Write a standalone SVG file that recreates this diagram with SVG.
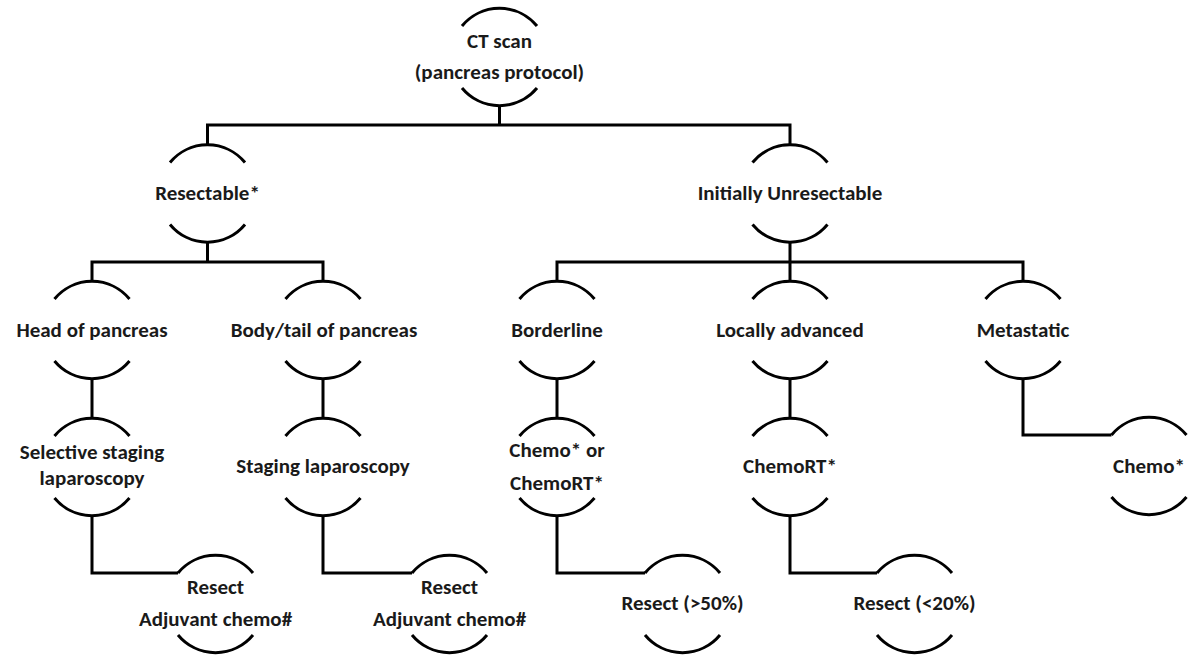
<svg xmlns="http://www.w3.org/2000/svg" width="1190" height="656" viewBox="0 0 1190 656">
<defs>
<style>
.arc{fill:none;stroke:#000;stroke-width:3;stroke-linecap:butt}
.con{fill:none;stroke:#000;stroke-width:3;stroke-linejoin:miter}
text{font-family:Carlito,Lato,"Open Sans",sans-serif;font-weight:bold;font-size:21px;fill:#1a1a1a;text-anchor:middle}
</style>
</defs>
<rect width="1190" height="656" fill="#fff"/>
<g id="connectors">
<path class="con" d="M499.5,106V125M207.5,144V125H790V144"/>
<path class="con" d="M207.5,242V262M92,281V262H323V281"/>
<path class="con" d="M790,242V262M557,281V262H1023V281M790,262V281"/>
<path class="con" d="M92,379V418M323,379V418M557,379V418M790,379V418"/>
<path class="con" d="M1023,379V435H1111.5"/>
<path class="con" d="M92,516V573H178M323,516V573H412M557,516V573H645M790,516V573H877"/>
</g>
<g id="n-ct">
<path class="arc" d="M462,26A48.7,48.7 0 0 1 537,26M462,88A48.7,48.7 0 0 0 537,88"/>
<text x="499.5" y="48">CT scan</text>
<text x="499.5" y="79">(pancreas protocol)</text>
</g>
<g id="n-resectable">
<path class="arc" d="M170,162.5A48.7,48.7 0 0 1 245,162.5M170,224.5A48.7,48.7 0 0 0 245,224.5"/>
<text x="207.5" y="200">Resectable*</text>
</g>
<g id="n-unresectable">
<path class="arc" d="M752.5,162.5A48.7,48.7 0 0 1 827.5,162.5M752.5,224.5A48.7,48.7 0 0 0 827.5,224.5"/>
<text x="790" y="200">Initially Unresectable</text>
</g>
<g id="n-head">
<path class="arc" d="M54.5,299A48.7,48.7 0 0 1 129.5,299M54.5,361A48.7,48.7 0 0 0 129.5,361"/>
<text x="92" y="337">Head of pancreas</text>
</g>
<g id="n-body">
<path class="arc" d="M285.5,299A48.7,48.7 0 0 1 360.5,299M285.5,361A48.7,48.7 0 0 0 360.5,361"/>
<text x="324" y="337">Body/tail of pancreas</text>
</g>
<g id="n-borderline">
<path class="arc" d="M519.5,299A48.7,48.7 0 0 1 594.5,299M519.5,361A48.7,48.7 0 0 0 594.5,361"/>
<text x="557" y="337">Borderline</text>
</g>
<g id="n-locally">
<path class="arc" d="M752.5,299A48.7,48.7 0 0 1 827.5,299M752.5,361A48.7,48.7 0 0 0 827.5,361"/>
<text x="790" y="337">Locally advanced</text>
</g>
<g id="n-metastatic">
<path class="arc" d="M985.5,299A48.7,48.7 0 0 1 1060.5,299M985.5,361A48.7,48.7 0 0 0 1060.5,361"/>
<text x="1023" y="337">Metastatic</text>
</g>
<g id="n-selective">
<path class="arc" d="M54.5,436A48.7,48.7 0 0 1 129.5,436M54.5,498A48.7,48.7 0 0 0 129.5,498"/>
<text x="92" y="459">Selective staging</text>
<text x="92" y="485">laparoscopy</text>
</g>
<g id="n-staging">
<path class="arc" d="M285.5,436A48.7,48.7 0 0 1 360.5,436M285.5,498A48.7,48.7 0 0 0 360.5,498"/>
<text x="323" y="473">Staging laparoscopy</text>
</g>
<g id="n-chemo-or">
<path class="arc" d="M519.5,436A48.7,48.7 0 0 1 594.5,436M519.5,498A48.7,48.7 0 0 0 594.5,498"/>
<text x="557" y="457">Chemo* or</text>
<text x="557" y="490">ChemoRT*</text>
</g>
<g id="n-chemort">
<path class="arc" d="M752.5,436A48.7,48.7 0 0 1 827.5,436M752.5,498A48.7,48.7 0 0 0 827.5,498"/>
<text x="790" y="473">ChemoRT*</text>
</g>
<g id="n-chemo">
<path class="arc" d="M1111.5,435A48.7,48.7 0 0 1 1186.5,435M1111.5,497A48.7,48.7 0 0 0 1186.5,497"/>
<text x="1149" y="473">Chemo*</text>
</g>
<g id="n-resect1">
<path class="arc" d="M178,573A48.7,48.7 0 0 1 253,573M178,635A48.7,48.7 0 0 0 253,635"/>
<text x="215.5" y="594">Resect</text>
<text x="215.5" y="626">Adjuvant chemo#</text>
</g>
<g id="n-resect2">
<path class="arc" d="M412,573A48.7,48.7 0 0 1 487,573M412,635A48.7,48.7 0 0 0 487,635"/>
<text x="449.5" y="594">Resect</text>
<text x="449.5" y="626">Adjuvant chemo#</text>
</g>
<g id="n-resect50">
<path class="arc" d="M645,573A48.7,48.7 0 0 1 720,573M645,635A48.7,48.7 0 0 0 720,635"/>
<text x="682.5" y="610">Resect (&gt;50%)</text>
</g>
<g id="n-resect20">
<path class="arc" d="M877,573A48.7,48.7 0 0 1 952,573M877,635A48.7,48.7 0 0 0 952,635"/>
<text x="914.5" y="610">Resect (&lt;20%)</text>
</g>
</svg>
